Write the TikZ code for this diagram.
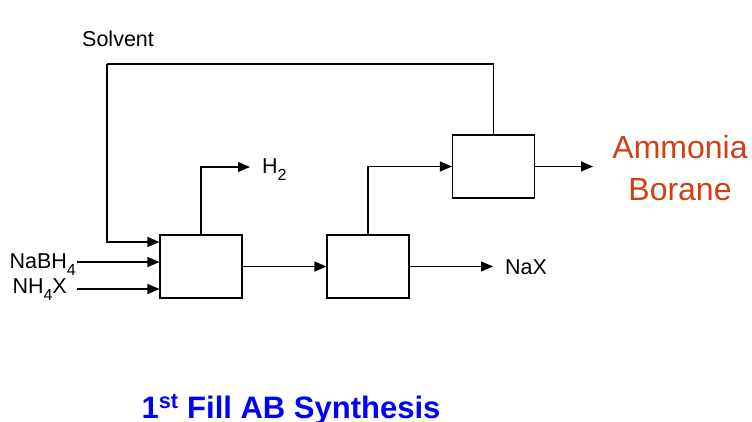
\documentclass[tikz,border=0pt]{standalone}
\usepackage{fontspec}
\setmainfont{Liberation Sans}
\usetikzlibrary{positioning,arrows.meta}
\definecolor{abred}{RGB}{208,64,16}
\definecolor{titleblue}{RGB}{0,0,255}
\newcommand{\lowsub}[1]{\raisebox{-7.5pt}{\fontsize{16}{16}\selectfont #1}}

\begin{document}
\begin{tikzpicture}[x=1pt,y=-1pt,
  unit/.style={draw,shape=rectangle,minimum width=82pt,minimum height=63pt,inner sep=0pt,line width=1.1pt},
  feed/.style={-{Triangle[length=12pt,width=10pt]},line width=1.1pt},
  lbl/.style={font=\fontsize{21.5}{24}\selectfont,inner sep=0pt}]
\useasboundingbox (0,0) rectangle (752,421);

% process units
\draw node (r1) at (201,266.5) [unit]{};
\draw node (r2) at (368,266.5) [unit]{};
\draw node (r3) at (493.5,166.5) [unit]{};

% labels
\draw node (solv) at (82,46) [lbl,anchor=base west]{Solvent};
\draw node (nabh) at (76,268) [lbl,anchor=base east]{NaBH\lowsub{4}};
\draw node (nhx) at (67,293) [lbl,anchor=base east]{NH\lowsub{4}X};
\draw node (h2) at (262,173) [lbl,anchor=base west]{H\lowsub{2}};
\draw node (nax) at (505,274) [lbl,anchor=base west]{NaX};
\draw node (ab) at (680,135) [inner sep=0pt,anchor=north,align=center,text=abred,
  font=\fontsize{32}{42}\selectfont]{Ammonia\\Borane};
\draw node (title) at (291,418) [inner sep=0pt,anchor=base,text=titleblue,
  font=\fontsize{31}{34}\selectfont\bfseries]{1\textsuperscript{st} Fill AB Synthesis};

\coordinate (top) at (107,64);
\coordinate (sv) at (107,242);
\coordinate (in1) at (77,262);
\coordinate (in2) at (77,289);
\coordinate (h2e) at (250,167);
\coordinate (naxe) at (493,266.5);
\coordinate (abe) at (593,166.5);

\draw[line width=1.1pt] (r3.north) |- (top);
\draw[feed] (top) -- (sv) -- (sv -| r1.west);
\draw[feed] (in1) -- (in1 -| r1.west);
\draw[feed] (in2) -- (in2 -| r1.west);
\draw[feed] (r1.north) |- (h2e);
\draw[feed] (r1) -- (r2);
\draw[feed] (r2.north) |- (r3.west);
\draw[feed] (r2) -- (naxe);
\draw[feed] (r3) -- (abe);
\end{tikzpicture}
\end{document}
